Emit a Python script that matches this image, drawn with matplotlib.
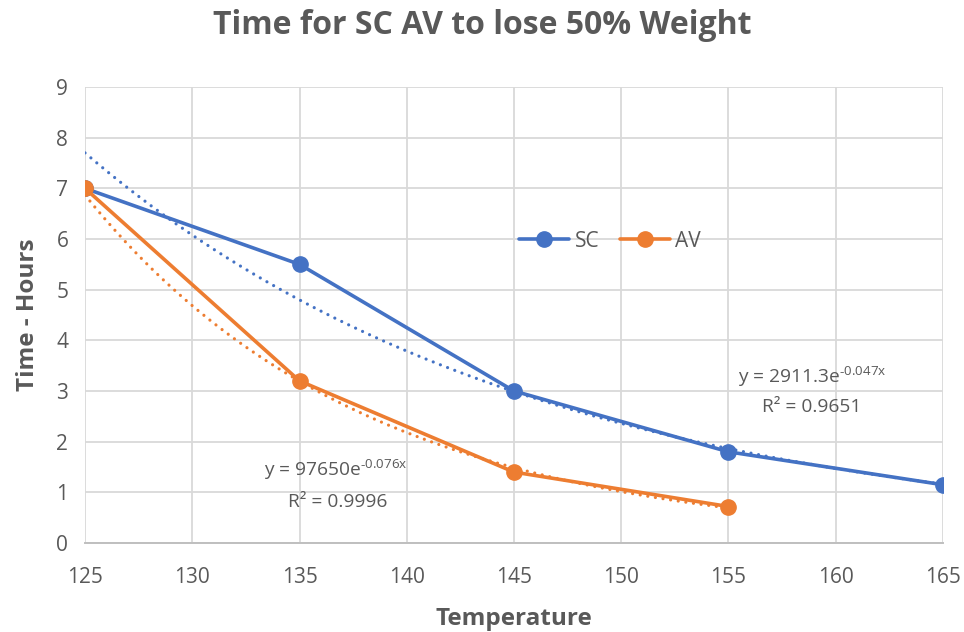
import matplotlib.pyplot as plt
import numpy as np

plt.rcParams['font.family'] = ['Open Sans', 'DejaVu Sans']
plt.rcParams['mathtext.default'] = 'regular'

temps_sc = [125, 135, 145, 155, 165]
hours_sc = [7.0, 5.5, 3.0, 1.8, 1.15]
temps_av = [125, 135, 145, 155]
hours_av = [7.0, 3.2, 1.4, 0.72]

x_ticks = [125, 130, 135, 140, 145, 150, 155, 160, 165]
y_ticks = list(range(10))

blue = '#4472C4'
orange = '#ED7D31'
grey = '#595959'


def exp_fit(x, y):
    # least squares on log(y), same as an exponential trendline
    b, ln_a = np.polyfit(x, np.log(y), 1)
    return np.exp(ln_a), b


fig = plt.figure(figsize=(9.64, 6.32), dpi=100)
ax = fig.add_axes([0.0882, 0.1408, 0.8900, 0.7215])

for xs, ys, c, name in [(temps_sc, hours_sc, blue, 'SC'), (temps_av, hours_av, orange, 'AV')]:
    ax.plot(xs, ys, color=c, lw=2.6, marker='o', ms=11, label=name, zorder=3,
            solid_capstyle='round')
    a, b = exp_fit(np.array(xs), np.array(ys))
    xx = np.linspace(xs[0], xs[-1], 200)
    ax.plot(xx, a * np.exp(b * xx), color=c, lw=2.3, ls=(0, (0.01, 2.4)),
            dash_capstyle='round', zorder=4)

# trendline equations; U+2010 keeps the exponent sign a short hyphen
ax.text(136.7, 1.44, 'y = 97650e$^{\u20100.076x}$', ha='center', va='center',
        fontsize=13.8, color=grey)
ax.text(136.8, 0.81, 'R² = 0.9996', ha='center', va='center',
        fontsize=13.8, color=grey)
ax.text(158.9, 3.27, 'y = 2911.3e$^{\u20100.047x}$', ha='center', va='center',
        fontsize=13.8, color=grey)
ax.text(158.9, 2.68, 'R² = 0.9651', ha='center', va='center',
        fontsize=13.8, color=grey)

ax.set_xlim(125, 165)
ax.set_ylim(0, 9)
ax.set_xticks(x_ticks)
ax.set_yticks(y_ticks)
ax.grid(True, color='#d9d9d9', lw=1.3)
ax.set_axisbelow(True)
for s in ['top', 'right', 'left']:
    ax.spines[s].set_visible(False)
ax.spines['bottom'].set_color('#bfbfbf')
ax.spines['bottom'].set_linewidth(1.4)
ax.tick_params(length=0, labelsize=15, colors=grey)
ax.tick_params(axis='x', pad=17)
ax.tick_params(axis='y', pad=12)

ax.set_xlabel('Temperature', fontsize=17.5, fontweight='bold', color=grey, labelpad=14)
ax.set_ylabel('Time - Hours', fontsize=17.5, fontweight='bold', color=grey, labelpad=12)
fig.suptitle('Time for SC AV to lose 50% Weight', fontsize=23, fontweight='bold',
             color=grey, y=0.985)

ax.legend(loc='center', bbox_to_anchor=(0.612, 0.662), ncol=2, frameon=False,
          fontsize=15, labelcolor=grey, handlelength=2.4, handletextpad=0.25,
          columnspacing=1.0)

fig.savefig('out.png', dpi=100)
